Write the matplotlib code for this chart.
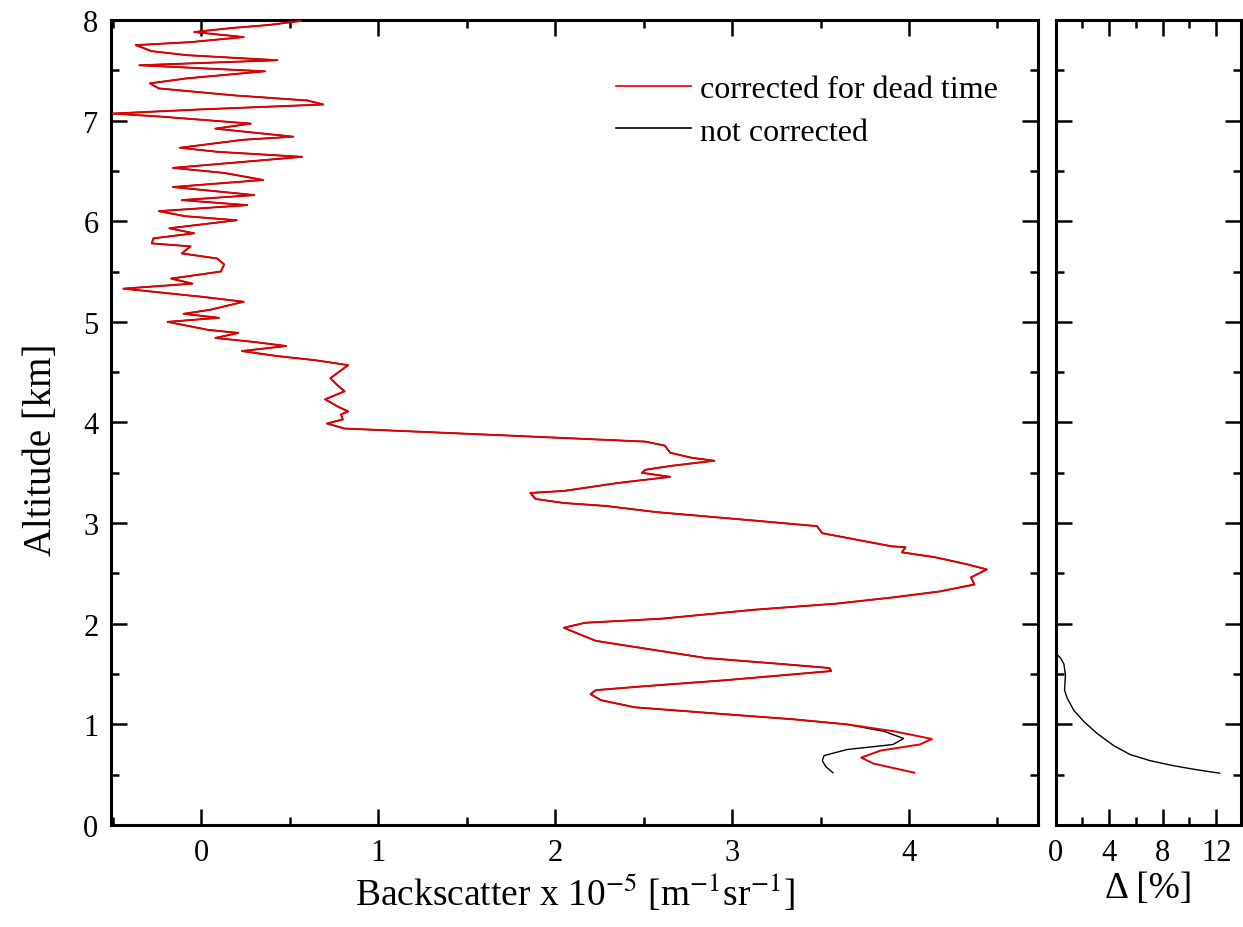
import matplotlib
matplotlib.use("Agg")
import matplotlib.pyplot as plt
from matplotlib.ticker import MultipleLocator
import numpy as np

# ---- data ----
# corrected for dead time (red): altitude [km] and backscatter [1e-5 m^-1 sr^-1]
alt_corr = [0.52, 0.61, 0.67, 0.74, 0.80, 0.855, 0.93, 1.00, 1.05, 1.10, 1.17, 1.24,
            1.30, 1.34, 1.38, 1.44, 1.53, 1.56, 1.60, 1.66, 1.77, 1.83, 1.93, 1.96,
            2.01, 2.05, 2.14, 2.20, 2.26, 2.32, 2.39, 2.46, 2.54, 2.59, 2.66, 2.71,
            2.76, 2.77, 2.90, 2.97, 3.02, 3.11, 3.17, 3.20, 3.24, 3.30, 3.32, 3.40,
            3.46, 3.50, 3.53, 3.57, 3.62, 3.65, 3.70, 3.77, 3.81, 3.87, 3.94, 3.99,
            4.03, 4.08, 4.11, 4.16, 4.23, 4.31, 4.37, 4.44, 4.57, 4.62, 4.66, 4.71,
            4.76, 4.80, 4.84, 4.89, 4.92, 5.00, 5.04, 5.08, 5.12, 5.20, 5.25, 5.33,
            5.38, 5.43, 5.50, 5.57, 5.63, 5.68, 5.75, 5.78, 5.83, 5.88, 5.93, 6.01,
            6.05, 6.10, 6.16, 6.21, 6.26, 6.34, 6.41, 6.48, 6.53, 6.64, 6.69, 6.73,
            6.81, 6.84, 6.92, 6.97, 7.04, 7.07, 7.11, 7.16, 7.20, 7.25, 7.32, 7.37,
            7.42, 7.49, 7.55, 7.60, 7.65, 7.69, 7.75, 7.78, 7.83, 7.88, 7.92, 7.95,
            7.99]
bsc_corr = [4.03, 3.80, 3.73, 3.84, 4.06, 4.13, 3.92, 3.65, 3.35, 2.97, 2.45, 2.26,
            2.20, 2.23, 2.51, 2.97, 3.56, 3.55, 3.28, 2.85, 2.45, 2.23, 2.09, 2.05,
            2.17, 2.60, 3.13, 3.59, 3.90, 4.17, 4.37, 4.35, 4.44, 4.33, 4.15, 3.96,
            3.98, 3.90, 3.51, 3.48, 3.16, 2.57, 2.29, 2.05, 1.89, 1.86, 2.05, 2.36,
            2.65, 2.49, 2.51, 2.66, 2.90, 2.77, 2.65, 2.62, 2.51, 1.74, 0.81, 0.71,
            0.80, 0.79, 0.83, 0.77, 0.70, 0.81, 0.77, 0.73, 0.83, 0.64, 0.43, 0.23,
            0.48, 0.30, 0.08, 0.21, 0.04, -0.19, 0.10, -0.10, 0.05, 0.24, 0.00, -0.44,
            -0.05, -0.17, 0.11, 0.13, 0.09, -0.11, -0.06, -0.28, -0.27, -0.04, -0.18, 0.20,
            -0.09, -0.24, 0.26, -0.11, 0.30, -0.16, 0.35, 0.13, -0.16, 0.57, 0.09, -0.12,
            0.24, 0.52, 0.08, 0.28, -0.23, -0.50, -0.02, 0.69, 0.60, 0.19, -0.24, -0.29,
            -0.08, 0.36, -0.35, 0.43, -0.08, -0.28, -0.37, -0.06, 0.24, -0.04, 0.17, 0.38,
            0.56]

# not corrected (black): differs from the corrected profile only below ~1 km
alt_raw_low = [0.52, 0.58, 0.64, 0.69, 0.75, 0.80, 0.86, 0.93]
bsc_raw_low = [3.57, 3.53, 3.51, 3.52, 3.65, 3.91, 3.97, 3.86]

# relative difference Delta [%]
alt_delta = [0.515, 0.55, 0.59, 0.64, 0.70, 0.79, 0.91, 1.03, 1.14, 1.26, 1.34,
             1.49, 1.60, 1.66, 1.70]
delta_pct = [12.25, 10.5, 8.78, 7.05, 5.57, 4.33, 3.1, 2.1, 1.36, 0.87, 0.67,
             0.74, 0.62, 0.37, 0.07]

x_major = [0, 1, 2, 3, 4]
d_major = [0, 4, 8, 12]
y_major = [0, 1, 2, 3, 4, 5, 6, 7, 8]

# ---- build series ----
alt_corr_a = np.array(alt_corr)
bsc_corr_a = np.array(bsc_corr)
mask_up = alt_corr_a >= 1.0
alt_raw = np.concatenate([alt_raw_low, alt_corr_a[mask_up]])
bsc_raw = np.concatenate([bsc_raw_low, bsc_corr_a[mask_up]])

plt.rcParams["font.family"] = ["Liberation Serif", "DejaVu Serif"]
plt.rcParams["mathtext.fontset"] = "stix"

fig = plt.figure(figsize=(12.43, 9.28), dpi=100)
ax = fig.add_axes([0.0893, 0.1099, 0.7459, 0.8675])
ax2 = fig.add_axes([0.8492, 0.1099, 0.1492, 0.8675])

ax.plot(bsc_raw, alt_raw, color="black", lw=1.0, label="not corrected", zorder=2)
ax.plot(bsc_corr_a, alt_corr_a, color="#e00000", lw=1.4,
        label="corrected for dead time", zorder=3)

ax.set_xlim(-0.51, 4.73)
ax.set_ylim(0, 8)
ax.set_xticks(x_major)
ax.set_yticks(y_major)
ax.xaxis.set_minor_locator(MultipleLocator(0.5))
ax.yaxis.set_minor_locator(MultipleLocator(0.5))

ax2.plot(delta_pct, alt_delta, color="black", lw=1.0)
ax2.set_xlim(0, 13.85)
ax2.set_ylim(0, 8)
ax2.set_xticks(d_major)
ax2.set_yticks(y_major)
ax2.xaxis.set_minor_locator(MultipleLocator(2))
ax2.yaxis.set_minor_locator(MultipleLocator(0.5))
ax2.tick_params(axis="y", which="both", labelleft=False)

for a in (ax, ax2):
    for s in a.spines.values():
        s.set_linewidth(2.2)
    a.tick_params(which="both", direction="in", top=True, right=True,
                  width=1.8, labelsize=22)
    a.tick_params(which="major", length=11.5)
    a.tick_params(which="minor", length=5.5)
    a.tick_params(axis="x", which="major", pad=9)
    a.tick_params(axis="y", which="major", pad=9)

ax.set_ylabel("Altitude [km]", fontsize=28)
ax.yaxis.set_label_coords(-0.055, 0.467)
ax.set_xlabel(r"Backscatter x 10$^{-5}$ [m$^{-1}$sr$^{-1}$]", fontsize=27, labelpad=3)
ax2.set_xlabel("\u0394 [%]", fontsize=27, labelpad=3)

h, l = ax.get_legend_handles_labels()
leg = ax.legend([h[1], h[0]], [l[1], l[0]], loc="upper right",
                bbox_to_anchor=(0.988, 0.968), frameon=False, fontsize=23,
                handlelength=2.35, handletextpad=0.3, labelspacing=0.42)
for line in leg.get_lines():
    line.set_linewidth(1.2)

fig.savefig("out.png", dpi=100)
